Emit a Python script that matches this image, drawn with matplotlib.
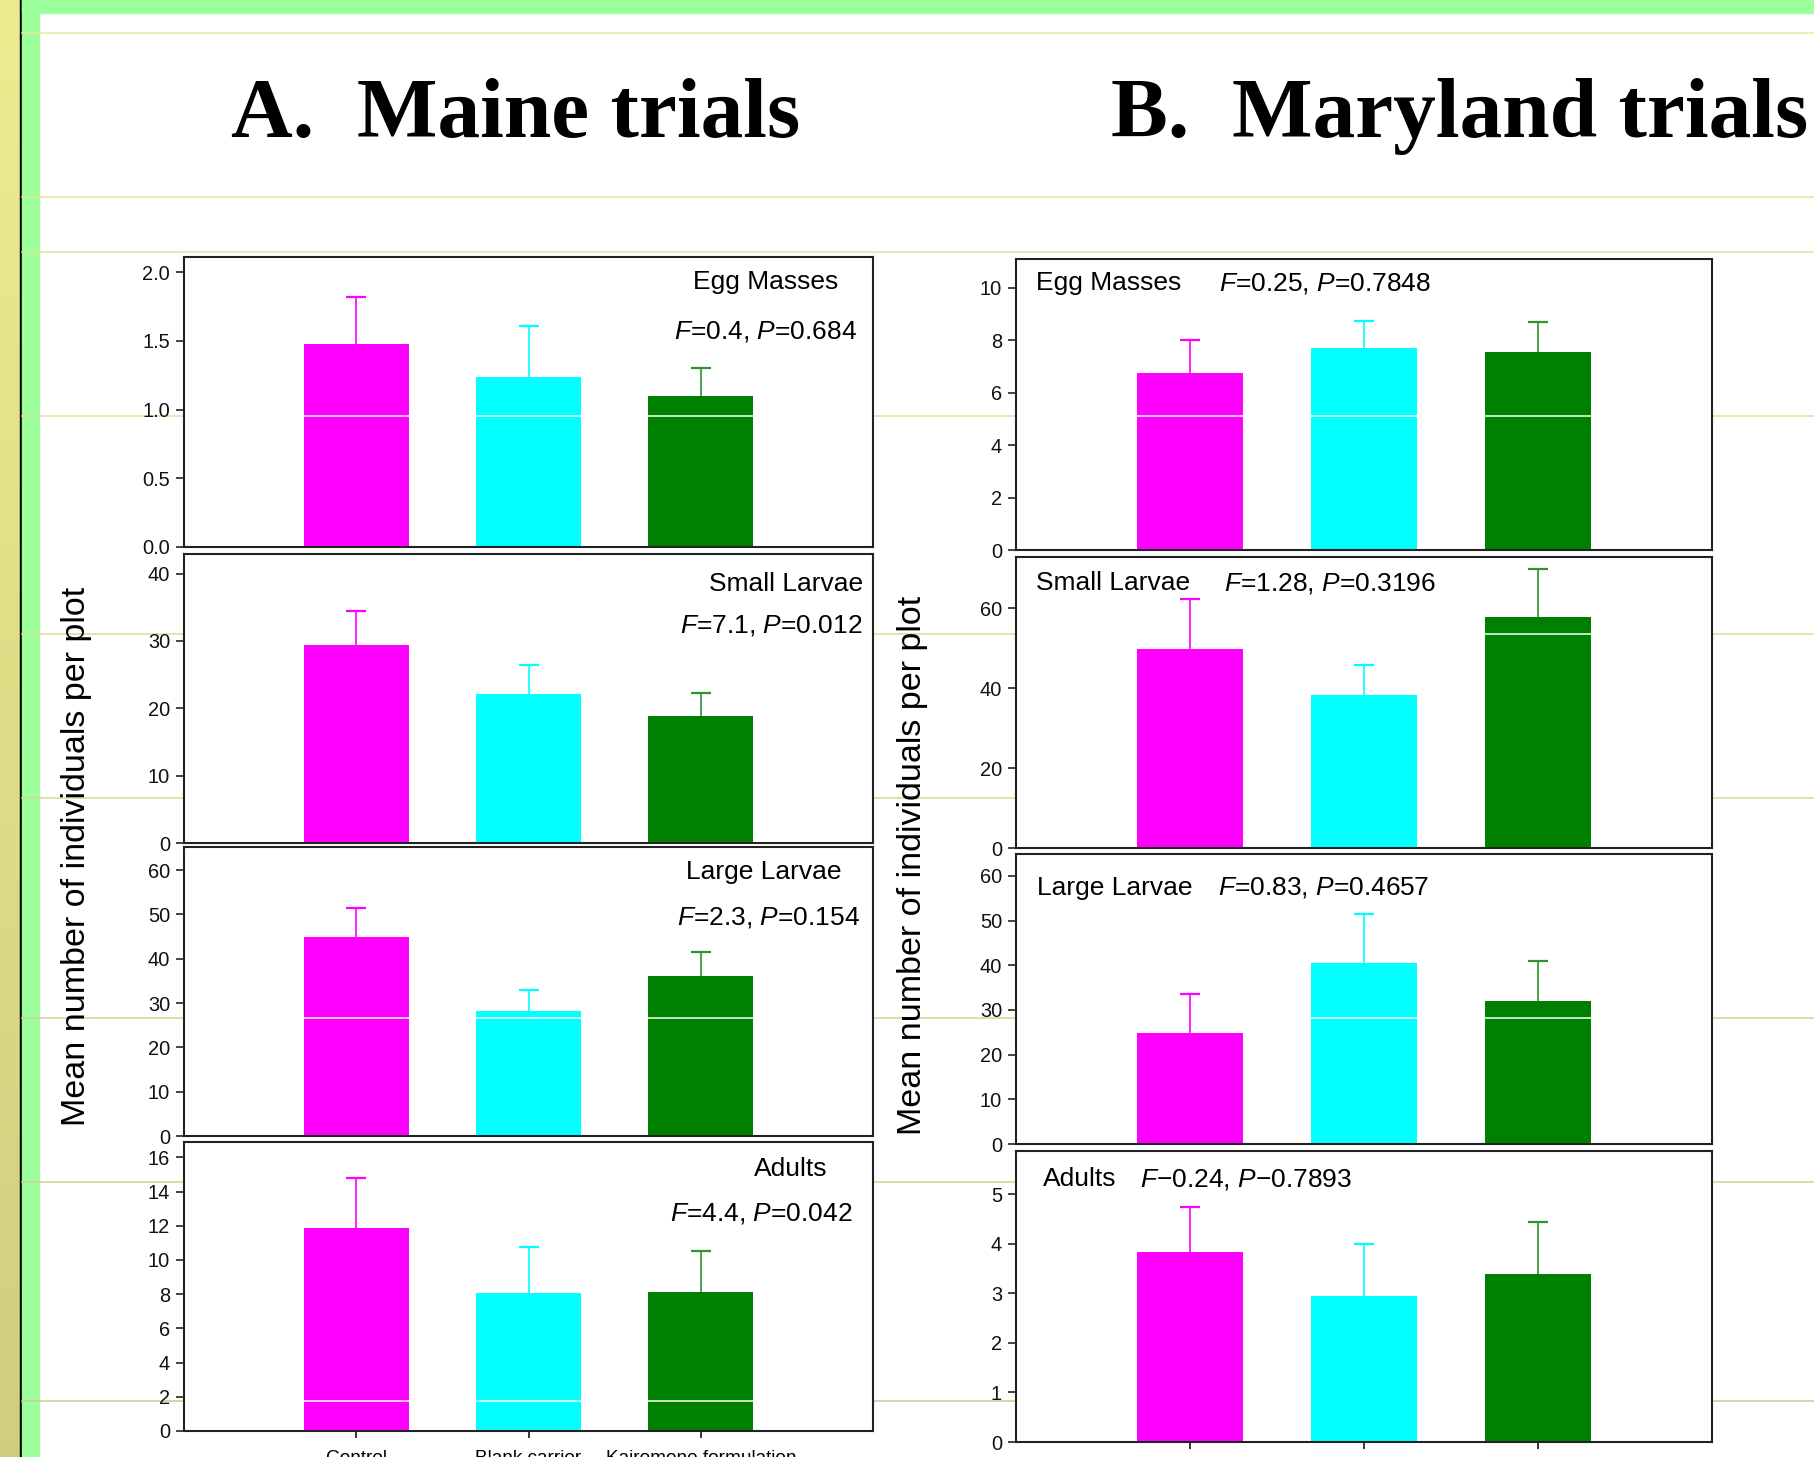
import numpy as np
import matplotlib
matplotlib.use("Agg")
import matplotlib.pyplot as plt
from matplotlib.patches import Rectangle
from matplotlib.lines import Line2D
from matplotlib.transforms import blended_transform_factory

# ---------------- data ----------------
categories = ["Control", "Blank carrier", "Kairomone formulation"]
bar_colors = ["#ff00ff", "#00ffff", "#008000"]
err_colors = ["#ff00ff", "#00ffff", "#2f942f"]

maine_egg_mean = [1.48, 1.24, 1.10]
maine_egg_se = [0.34, 0.37, 0.20]
maine_small_mean = [29.4, 22.1, 18.9]
maine_small_se = [5.1, 4.3, 3.4]
maine_large_mean = [44.9, 28.2, 36.1]
maine_large_se = [6.6, 4.8, 5.4]
maine_adult_mean = [11.9, 8.05, 8.1]
maine_adult_se = [2.9, 2.7, 2.4]

maryland_egg_mean = [6.75, 7.7, 7.55]
maryland_egg_se = [1.25, 1.05, 1.15]
maryland_small_mean = [49.7, 38.2, 57.9]
maryland_small_se = [12.5, 7.6, 11.9]
maryland_large_mean = [24.9, 40.5, 32.0]
maryland_large_se = [8.6, 11.0, 9.0]
maryland_adult_mean = [3.83, 2.94, 3.39]
maryland_adult_se = [0.91, 1.05, 1.05]

stage_names = ["Egg Masses", "Small Larvae", "Large Larvae", "Adults"]
maine_stats = [r"$\mathit{F}$=0.4, $\mathit{P}$=0.684",
               r"$\mathit{F}$=7.1, $\mathit{P}$=0.012",
               r"$\mathit{F}$=2.3, $\mathit{P}$=0.154",
               r"$\mathit{F}$=4.4, $\mathit{P}$=0.042"]
maryland_stats = [r"$\mathit{F}$=0.25, $\mathit{P}$=0.7848",
                  r"$\mathit{F}$=1.28, $\mathit{P}$=0.3196",
                  r"$\mathit{F}$=0.83, $\mathit{P}$=0.4657",
                  r"$\mathit{F}$−0.24, $\mathit{P}$−0.7893"]

# ---------------- style ----------------
plt.rcParams["font.family"] = ["Liberation Sans", "DejaVu Sans"]
plt.rcParams["mathtext.fontset"] = "custom"
plt.rcParams["mathtext.it"] = "Liberation Sans:italic"
plt.rcParams["mathtext.rm"] = "Liberation Sans"

W, H = 1814, 1457
fig = plt.figure(figsize=(W / 100, H / 100), dpi=100)
fig.patch.set_facecolor("white")


def fx(x):
    return x / W


def fy(y):
    return 1 - y / H


# slide decoration: left yellow strip, black rule, green frame
strip = fig.add_axes([0, 0, fx(20), 1], zorder=-10)
grad = np.linspace(0, 1, 256).reshape(-1, 1)
top_c = np.array([0.925, 0.925, 0.56])
bot_c = np.array([0.815, 0.81, 0.50])
img = top_c[None, None, :] * (1 - grad[:, :, None]) + bot_c[None, None, :] * grad[:, :, None]
strip.imshow(img, aspect="auto", extent=[0, 1, 0, 1])
strip.set_axis_off()

fig.patches.append(Rectangle((fx(20), 0), fx(2), 1, transform=fig.transFigure,
                             color="black", zorder=-9))
fig.patches.append(Rectangle((fx(22), 0), fx(17), 1, transform=fig.transFigure,
                             color="#9cff9c", zorder=-9))
fig.patches.append(Rectangle((fx(22), fy(13)), 1, 13 / H, transform=fig.transFigure,
                             color="#9cff9c", zorder=-9))

slide_rules = [33, 197, 252, 416, 634, 798, 1018, 1182, 1401]
for y in slide_rules:
    t = y / H
    c = (1 - t) * np.array([0.91, 0.91, 0.62]) + t * np.array([0.80, 0.80, 0.55])
    fig.lines.append(Line2D([fx(22), 1], [fy(y), fy(y)], transform=fig.transFigure,
                            color=c, lw=1.1, zorder=-8))

# titles
fig.text(fx(231), fy(137), "A.  Maine trials", family=["Liberation Serif", "DejaVu Serif"],
         weight="bold", fontsize=61.5, ha="left", va="baseline")
fig.text(fx(1111), fy(137), "B.  Maryland trials", family=["Liberation Serif", "DejaVu Serif"],
         weight="bold", fontsize=61.5, ha="left", va="baseline")

# ---------------- panels ----------------
maine_means = [maine_egg_mean, maine_small_mean, maine_large_mean, maine_adult_mean]
maine_ses = [maine_egg_se, maine_small_se, maine_large_se, maine_adult_se]
maryland_means = [maryland_egg_mean, maryland_small_mean, maryland_large_mean, maryland_adult_mean]
maryland_ses = [maryland_egg_se, maryland_small_se, maryland_large_se, maryland_adult_se]

maine_boxes = [(184, 257, 873, 547), (184, 554, 873, 843), (184, 847, 873, 1136), (184, 1142, 873, 1431)]
maryland_boxes = [(1016, 259, 1712, 550), (1016, 557, 1712, 848), (1016, 854, 1712, 1144), (1016, 1151, 1712, 1442)]

maine_ylim = [2.11, 42.9, 65.2, 16.9]
maryland_ylim = [11.1, 72.8, 64.9, 5.87]
maine_ticks = [np.arange(0, 2.01, 0.5), np.arange(0, 41, 10), np.arange(0, 61, 10), np.arange(0, 17, 2)]
maryland_ticks = [np.arange(0, 11, 2), np.arange(0, 61, 20), np.arange(0, 61, 10), np.arange(0, 6, 1)]

# label placements (pixels): (name x, name y, stats x, stats y)
maine_text = [(838, 282, 857, 332), (863, 584, 863, 626), (842, 872, 860, 917), (827, 1169, 853, 1213)]
maryland_text = [(1036, 283, 1219, 283), (1036, 583, 1224, 583), (1037, 888, 1218, 888), (1043, 1179, 1140, 1179)]

# background rules that show through the plotting area as thin white lines
maine_white_rules = [[416], [], [1018], [1401]]
maryland_white_rules = [[416], [634], [1018], []]

x = np.arange(len(categories))


def draw_panel(box, means, ses, ytop, ticks, bottom, white_rules):
    x0, y0, x1, y1 = box
    ax = fig.add_axes([fx(x0), fy(y1), fx(x1 - x0), (y1 - y0) / H])
    ax.set_facecolor("white")
    ax.bar(x, means, width=0.61, color=bar_colors, linewidth=0, zorder=1)
    for i in range(len(x)):
        _, caps, _ = ax.errorbar(x[i], means[i], yerr=[[0], [ses[i]]], fmt="none",
                                 ecolor=err_colors[i], elinewidth=1.2, capsize=7.5,
                                 capthick=1.6, zorder=3)
        caps[0].set_visible(False)
    ax.set_xlim(-1, 3)
    ax.set_ylim(0, ytop)
    ax.set_yticks(ticks)
    if ticks[-1] < 3:
        ax.set_yticklabels([f"{t:.1f}" for t in ticks])
    else:
        ax.set_yticklabels([f"{t:g}" for t in ticks])
    ax.tick_params(axis="y", direction="out", length=6, width=1.1, pad=4, labelsize=14.4,
                   colors="#111111")
    if bottom:
        ax.set_xticks(x)
        ax.tick_params(axis="x", direction="out", length=5, width=1.1, pad=9, labelsize=13.7)
    else:
        ax.set_xticks([])
    for s in ax.spines.values():
        s.set_linewidth(1.5)
        s.set_color("#222222")
    tr = blended_transform_factory(ax.transAxes, fig.transFigure)
    for y in white_rules:
        ax.plot([0, 1], [fy(y), fy(y)], transform=tr, color="white", lw=1.1, zorder=1.5)
    return ax


for k in range(4):
    ax = draw_panel(maine_boxes[k], maine_means[k], maine_ses[k], maine_ylim[k],
                    maine_ticks[k], k == 3, maine_white_rules[k])
    if k == 3:
        ax.set_xticklabels(categories)
    nx, ny, sx, sy = maine_text[k]
    fig.text(fx(nx), fy(ny), stage_names[k], fontsize=19, ha="right", va="center")
    fig.text(fx(sx), fy(sy), maine_stats[k], fontsize=19, ha="right", va="center")

for k in range(4):
    ax = draw_panel(maryland_boxes[k], maryland_means[k], maryland_ses[k], maryland_ylim[k],
                    maryland_ticks[k], k == 3, maryland_white_rules[k])
    if k == 3:
        ax.set_xticklabels([])
    nx, ny, sx, sy = maryland_text[k]
    fig.text(fx(nx), fy(ny), stage_names[k], fontsize=19, ha="left", va="center")
    fig.text(fx(sx), fy(sy), maryland_stats[k], fontsize=19, ha="left", va="center")

ylab = "Mean number of individuals per plot"
fig.text(fx(77), fy(856), ylab, rotation=90, fontsize=24.5, ha="center", va="center")
fig.text(fx(913), fy(865), ylab, rotation=90, fontsize=24.5, ha="center", va="center")

fig.savefig("out.png", dpi=100, facecolor="white")
